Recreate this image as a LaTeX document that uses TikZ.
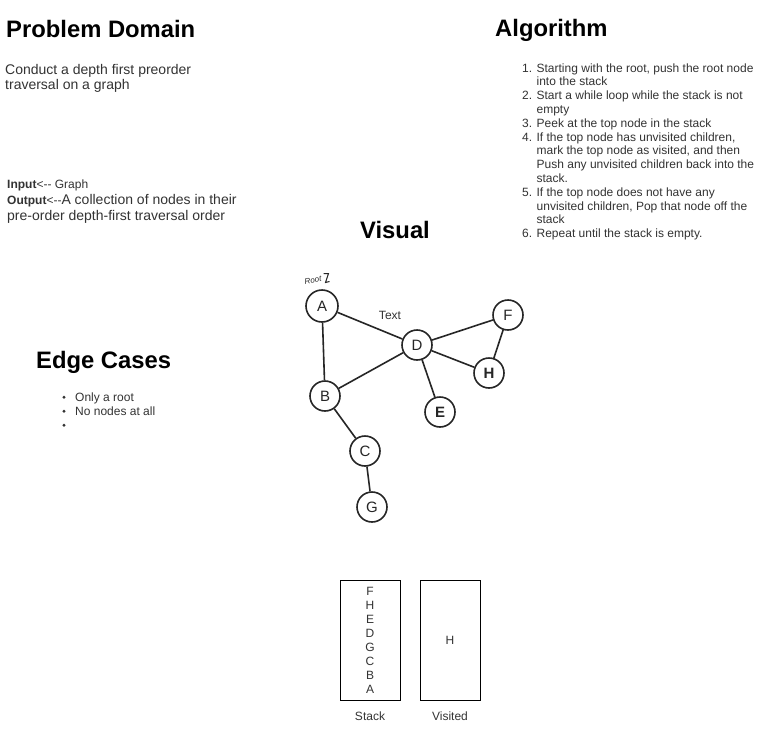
\documentclass[tikz,border=0pt]{standalone}
\usepackage{fontspec}
\setmainfont{Liberation Sans}
\usetikzlibrary{arrows.meta}
\definecolor{txt}{HTML}{333333}
\begin{document}
\begin{tikzpicture}[x=1pt,y=-1pt,
  head/.style={anchor=base west,inner sep=0pt,font=\fontsize{23.8}{28}\selectfont\bfseries,text=black},
  body/.style={anchor=base west,inner sep=0pt,font=\fontsize{14}{17}\selectfont,text=txt},
  small/.style={anchor=base west,inner sep=0pt,font=\fontsize{12}{14}\selectfont,text=txt},
  gnode/.style={circle,draw=black!85,line width=1.6pt,minimum size=30pt,inner sep=0pt,font=\fontsize{15}{15}\selectfont,text=black!85},
  gedge/.style={draw=black!85,line width=1.6pt},
  box/.style={draw=black,line width=0.8pt,minimum width=60pt,minimum height=120pt,inner sep=0pt},
  lbl/.style={anchor=base,inner sep=0pt,font=\fontsize{12}{14}\selectfont,text=txt}
]
\useasboundingbox (0,0) rectangle (761,731);
\fill[white] (0,0) rectangle (761,731);

% Problem domain
\node[head] (pd) at (6,37) {Problem Domain};
\node[body] (pd1) at (5,74) {Conduct a depth first preorder};
\node[body] (pd2) at (5,89) {traversal on a graph};
\node[small] (in) at (7,188) {\textbf{Input}<-{}- Graph};
\node[small] (out) at (7,204) {\textbf{Output}<-{}-{\fontsize{14}{17}\selectfont A collection of nodes in their}};
\node[body] (out2) at (7,220) {pre-order depth-first traversal order};

% Algorithm
\node[head] (alg) at (495,36) {Algorithm};
\foreach \t [count=\i] in {
  {1. Starting with the root, push the root node},
  {\phantom{1. }into the stack},
  {2. Start a while loop while the stack is not},
  {\phantom{1. }empty},
  {3. Peek at the top node in the stack},
  {4. If the top node has unvisited children,},
  {\phantom{1. }mark the top node as visited, and then},
  {\phantom{1. }Push any unvisited children back into the},
  {\phantom{1. }stack.},
  {5. If the top node does not have any},
  {\phantom{1. }unvisited children, Pop that node off the},
  {\phantom{1. }stack},
  {6. Repeat until the stack is empty.}}
  \node[small] (al\i) at (522,{72+(\i-1)*13.8}) {\t};

% Visual
\node[head,anchor=base] (vis) at (395,238) {Visual};

% Edge cases
\node[head] (ec) at (36,368) {Edge Cases};
\foreach \t/\yy [count=\i] in {Only a root/401, No nodes at all/415, {}/429}{
  \fill[txt] (64,\yy-3.8) circle (1.6pt);
  \node[small] (ec\i) at (75,\yy) {\t};
}

% Graph
\node[gnode,minimum size=32pt] (A) at (322,306) {A};
\node[gnode] (D) at (417,345) {D};
\node[gnode] (F) at (508,315) {F};
\node[gnode] (H) at (489,373) {\textbf{H}};
\node[gnode] (E) at (440,412) {\textbf{E}};
\node[gnode] (B) at (325,396) {B};
\node[gnode] (C) at (365,451) {C};
\node[gnode] (G) at (372,507) {G};
\foreach \a/\b in {A/D,A/B,B/D,D/F,D/H,F/H,D/E,B/C,C/G}
  \draw[gedge] (\a) -- (\b);
\node[lbl] (txtl) at (390,319) {Text};
\node[inner sep=0pt,font=\fontsize{8}{8}\selectfont\itshape,text=black!85,rotate=10] (root) at (313,280) {Root};
\draw[black!85,line width=1pt] (root.east) ++(2,-5) -- ++(5,0) -- ++(-3,9) -- ++(4,-1);

% Stack & visited
\node[box] (stack) at (370,640) {};
\node[box] (visited) at (450,640) {};
\foreach \l [count=\i] in {F,H,E,D,G,C,B,A}
  \node[lbl] (s\i) at (370,{595+(\i-1)*14}) {\l};
\node[lbl] (vh) at (450,644) {H};
\node[lbl] (stl) at (370,720) {Stack};
\node[lbl] (vil) at (450,720) {Visited};
\end{tikzpicture}
\end{document}
